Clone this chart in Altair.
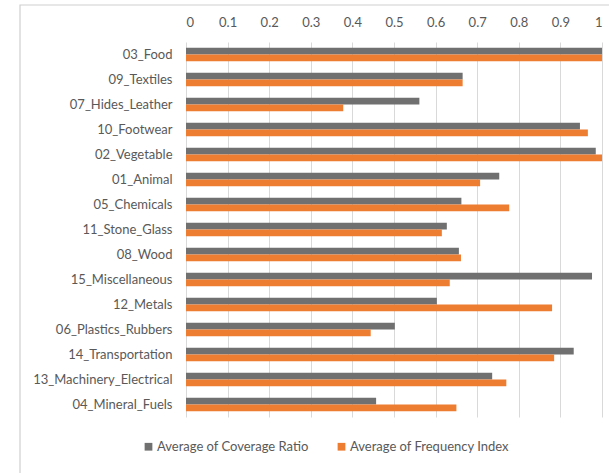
import altair as alt
import pandas as pd

# HS sections, top to bottom
sections = [
    "03_Food", "09_Textiles", "07_Hides_Leather", "10_Footwear", "02_Vegetable",
    "01_Animal", "05_Chemicals", "11_Stone_Glass", "08_Wood", "15_Miscellaneous",
    "12_Metals", "06_Plastics_Rubbers", "14_Transportation",
    "13_Machinery_Electrical", "04_Mineral_Fuels",
]
coverage_ratio = [1.0, 0.665, 0.561, 0.947, 0.985, 0.753, 0.662, 0.627, 0.656,
                  0.976, 0.603, 0.502, 0.932, 0.736, 0.457]
frequency_index = [1.0, 0.665, 0.378, 0.966, 1.0, 0.707, 0.777, 0.615, 0.661,
                   0.634, 0.880, 0.444, 0.885, 0.770, 0.650]
series_names = ["Average of Coverage Ratio", "Average of Frequency Index"]
series_colors = ["#707070", "#ED7D31"]
ticks = [0, 0.1, 0.2, 0.3, 0.4, 0.5, 0.6, 0.7, 0.8, 0.9, 1.0]

rows = []
for s, c, f in zip(sections, coverage_ratio, frequency_index):
    rows.append({"section": s, "series": series_names[0], "value": c})
    rows.append({"section": s, "series": series_names[1], "value": f})
df = pd.DataFrame(rows)

FONT = "Lato"
TEXT = "#595959"

bars = alt.Chart(df).mark_bar().encode(
    x=alt.X(
        "value:Q",
        scale=alt.Scale(domain=[0, 1], nice=False),
        axis=alt.Axis(
            orient="top", values=ticks, format="~g", title=None,
            ticks=False, domain=False, labelPadding=13,
            grid=True, gridColor="#d9d9d9", gridWidth=1,
            labelFont=FONT, labelFontSize=13, labelColor=TEXT,
        ),
    ),
    y=alt.Y(
        "section:N", sort=sections,
        scale=alt.Scale(paddingInner=0.46, paddingOuter=0.23),
        axis=alt.Axis(
            title=None, ticks=False, domain=False, labelPadding=14,
            labelFont=FONT, labelFontSize=13, labelColor=TEXT, labelLimit=300,
        ),
    ),
    yOffset=alt.YOffset("series:N", sort=series_names),
    color=alt.Color(
        "series:N",
        scale=alt.Scale(domain=series_names, range=series_colors),
        legend=alt.Legend(
            title=None, orient="none", direction="horizontal",
            legendX=-44, legendY=398,
            symbolType="square", symbolSize=60, symbolStrokeWidth=0,
            labelFont=FONT, labelFontSize=13, labelColor=TEXT,
            labelOffset=2, columnPadding=26,
        ),
    ),
)

# light outer frame around the whole figure
frame = alt.Chart(alt.Data(values=[{}])).mark_rect(
    fill=None, stroke="#cfcfcf", strokeWidth=1.2
).encode(
    x=alt.value(-166), x2=alt.value(440),
    y=alt.value(-37), y2=alt.value(450),
)

chart = alt.layer(frame, bars).properties(
    width=416, height=375,
    autosize=alt.AutoSizeParams(type="none"),
    padding={"left": 186, "top": 42, "right": 7, "bottom": 56},
    background="white",
).configure_view(stroke=None)

chart.save("out.html", embed_options={"renderer": "svg", "actions": False})
